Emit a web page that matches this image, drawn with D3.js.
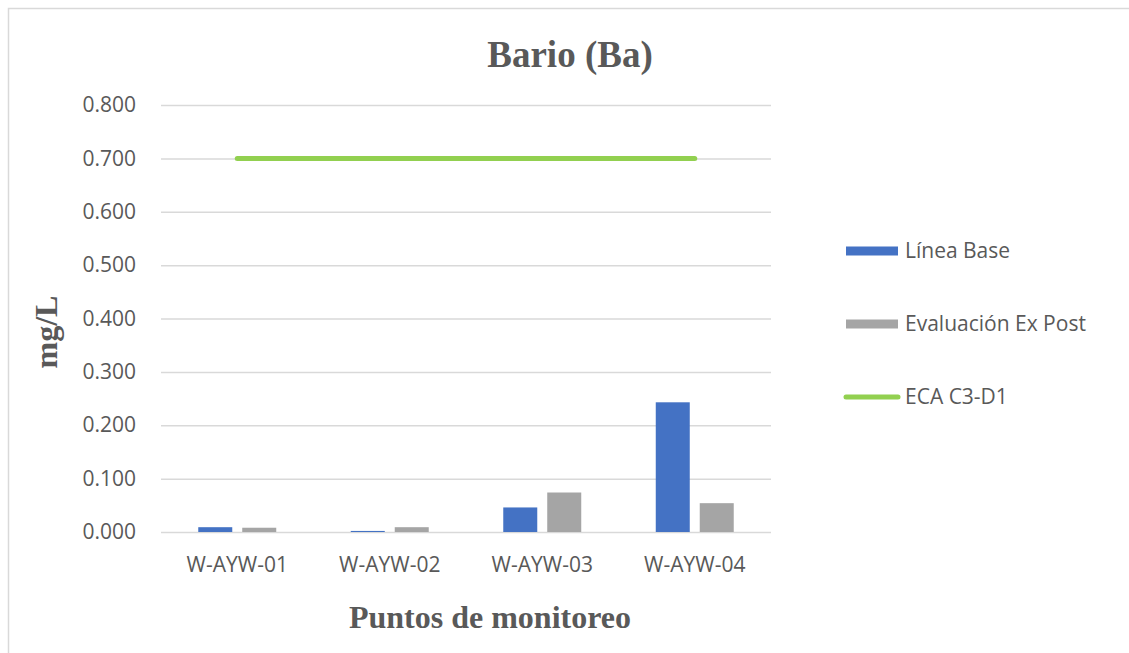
<!DOCTYPE html>
<html>
<head>
<meta charset="utf-8">
<script src="https://cdn.jsdelivr.net/npm/d3@7"></script>
<style>
  html, body { margin: 0; padding: 0; background: #fff; }
  svg { display: block; }
</style>
</head>
<body>
<svg id="chart" width="1129" height="653"></svg>
<script>
const categories = ["W-AYW-01", "W-AYW-02", "W-AYW-03", "W-AYW-04"];
const lineaBase = [0.009, 0.002, 0.046, 0.243];
const exPost = [0.008, 0.009, 0.074, 0.054];
const eca = [0.700, 0.700, 0.700, 0.700];
const yTicks = [0, 0.1, 0.2, 0.3, 0.4, 0.5, 0.6, 0.7, 0.8];
const seriesNames = ["Línea Base", "Evaluación Ex Post", "ECA C3-D1"];
const seriesColors = ["#4472C4", "#A5A5A5", "#92D050"];

const svg = d3.select("#chart");
const plot = { left: 161, right: 771, top: 105, bottom: 532 };

// chart border
svg.append("rect")
  .attr("x", 8.5).attr("y", 8.5)
  .attr("width", 1300).attr("height", 800)
  .attr("fill", "none").attr("stroke", "#d9d9d9").attr("stroke-width", 1.5);

const y = d3.scaleLinear().domain([0, 0.8]).range([plot.bottom, plot.top]);
const x = d3.scaleBand().domain(categories).range([plot.left, plot.right]).padding(0);
const xs = d3.scaleBand().domain([0, 1]).range([0, x.bandwidth()])
  .paddingInner(0.227).paddingOuter(0.847);

// gridlines
const yAxis = d3.axisLeft(y).tickValues(yTicks).tickFormat(d3.format(".3f"))
  .tickSize(-(plot.right - plot.left)).tickPadding(25);
const gy = svg.append("g").attr("transform", `translate(${plot.left},0)`).call(yAxis);
gy.select(".domain").remove();
gy.selectAll(".tick line").attr("stroke", "#d9d9d9").attr("stroke-width", 1.5);
gy.selectAll(".tick text")
  .attr("fill", "#595959")
  .style("font-family", "'Open Sans', sans-serif")
  .style("font-size", "21px");

// x axis labels
const xAxis = d3.axisBottom(x).tickSize(0).tickPadding(25);
const gx = svg.append("g").attr("transform", `translate(0,${plot.bottom})`).call(xAxis);
gx.select(".domain").remove();
gx.selectAll(".tick text")
  .attr("fill", "#595959")
  .style("font-family", "'Open Sans', sans-serif")
  .style("font-size", "21px");

// bars
const series = [lineaBase, exPost];
series.forEach((vals, si) => {
  svg.append("g").selectAll("rect")
    .data(vals)
    .join("rect")
    .attr("x", (d, i) => x(categories[i]) + xs(si))
    .attr("width", xs.bandwidth())
    .attr("y", d => y(d))
    .attr("height", d => y(0) - y(d))
    .attr("fill", seriesColors[si]);
});

// ECA line
const line = d3.line()
  .x((d, i) => x(categories[i]) + x.bandwidth() / 2)
  .y(d => y(d));
svg.append("path")
  .datum(eca)
  .attr("d", line)
  .attr("fill", "none")
  .attr("stroke", seriesColors[2])
  .attr("stroke-width", 5)
  .attr("stroke-linecap", "round");

// title
svg.append("text")
  .attr("x", 570).attr("y", 67)
  .attr("text-anchor", "middle")
  .attr("fill", "#595959")
  .style("font-family", "'Liberation Serif', 'Times New Roman', serif")
  .style("font-weight", "bold")
  .style("font-size", "37px")
  .text("Bario (Ba)");

// x title
svg.append("text")
  .attr("x", 490).attr("y", 628)
  .attr("text-anchor", "middle")
  .attr("fill", "#595959")
  .style("font-family", "'Liberation Serif', 'Times New Roman', serif")
  .style("font-weight", "bold")
  .style("font-size", "32px")
  .text("Puntos de monitoreo");

// y title
svg.append("text")
  .attr("transform", "translate(57,332) rotate(-90)")
  .attr("text-anchor", "middle")
  .attr("fill", "#595959")
  .style("font-family", "'Liberation Serif', 'Times New Roman', serif")
  .style("font-weight", "bold")
  .style("font-size", "32px")
  .text("mg/L");

// legend
const legY = [251, 324, 397];
const leg = svg.append("g");
seriesNames.forEach((name, i) => {
  if (i < 2) {
    leg.append("rect")
      .attr("x", 846).attr("y", legY[i] - 4.5)
      .attr("width", 52).attr("height", 9)
      .attr("fill", seriesColors[i]);
  } else {
    leg.append("line")
      .attr("x1", 846).attr("x2", 898)
      .attr("y1", legY[i]).attr("y2", legY[i])
      .attr("stroke", seriesColors[i]).attr("stroke-width", 5)
      .attr("stroke-linecap", "round");
  }
  leg.append("text")
    .attr("x", 905).attr("y", legY[i])
    .attr("dy", "0.35em")
    .attr("fill", "#595959")
    .style("font-family", "'Open Sans', sans-serif")
    .style("font-size", "21px")
    .text(name);
});
</script>
</body>
</html>
